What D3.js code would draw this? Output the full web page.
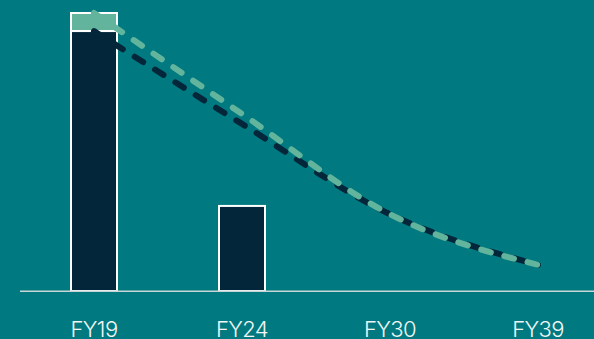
<!DOCTYPE html>
<html><head><meta charset="utf-8">
<script src="https://cdn.jsdelivr.net/npm/d3@7"></script>
<style>
html,body{margin:0;padding:0;background:#007A80;}
svg{display:block;}
</style></head>
<body>
<svg id="chart" width="594" height="339"></svg>
<script>
// Data
const categories = ["FY19", "FY24", "FY30", "FY39"];
const barDark = [93.5, 30.6, null, null];     // actual (dark) bar
const barExtra = [6.5, 0, null, null];         // extra light segment on top
const pathwayGreen = [100, 63.7, 27.6, 9.4];   // green dashed pathway
const pathwayDark = [93.5, 60.1, 27.6, 9.4];   // dark dashed pathway

const W = 594, H = 339;
const colors = { bg: "#007A80", dark: "#03263A", green: "#62B59C", axis: "#C9D6D8", text: "#F2F6F6" };

const svg = d3.select("#chart");
svg.append("rect").attr("width", W).attr("height", H).attr("fill", colors.bg);

const x = d3.scaleBand().domain(categories).range([20, 612]).padding(0);
const cx = c => x(c) + x.bandwidth() / 2;
const barW = 46;
const y = d3.scaleLinear().domain([0, 100]).range([291, 13]);

// Bars
categories.forEach((c, i) => {
  if (barDark[i] == null) return;
  const total = barDark[i] + (barExtra[i] || 0);
  if (barExtra[i] > 0) {
    svg.append("rect")
      .attr("x", cx(c) - barW / 2).attr("width", barW)
      .attr("y", y(total)).attr("height", y(barDark[i]) - y(total))
      .attr("fill", colors.green).attr("stroke", "#fff").attr("stroke-width", 2);
  }
  svg.append("rect")
    .attr("x", cx(c) - barW / 2).attr("width", barW)
    .attr("y", y(barDark[i])).attr("height", y(0) - y(barDark[i]))
    .attr("fill", colors.dark).attr("stroke", "#fff").attr("stroke-width", 2);
});

// Baseline
svg.append("line")
  .attr("x1", 20).attr("x2", W).attr("y1", y(0) + 0.3).attr("y2", y(0) + 0.3)
  .attr("stroke", colors.axis).attr("stroke-width", 1.6);

// Lines
const line = d3.line()
  .x((d, i) => cx(categories[i]))
  .y(d => y(d))
  .curve(d3.curveMonotoneX);

svg.append("path").datum(pathwayDark)
  .attr("d", line).attr("fill", "none")
  .attr("stroke", colors.dark).attr("stroke-width", 6)
  .attr("stroke-linecap", "round")
  .attr("stroke-dasharray", "10,14").attr("stroke-dashoffset", 0);

svg.append("path").datum(pathwayGreen)
  .attr("d", line).attr("fill", "none")
  .attr("stroke", colors.green).attr("stroke-width", 6)
  .attr("stroke-linecap", "round")
  .attr("stroke-dasharray", "10,14").attr("stroke-dashoffset", 0);

// Axis labels
const axis = d3.axisBottom(x).tickSize(0).tickPadding(0);
const g = svg.append("g").attr("transform", `translate(0,${y(0)})`).call(axis);
g.select(".domain").remove();
g.selectAll("text")
  .attr("y", 45.5).attr("dy", 0)
  .attr("fill", colors.text)
  .style("font-family", "Inter, 'Open Sans', sans-serif")
  .style("font-size", "22px")
  .style("font-weight", 300)
  .style("letter-spacing", "-0.6px");
</script>
</body></html>
